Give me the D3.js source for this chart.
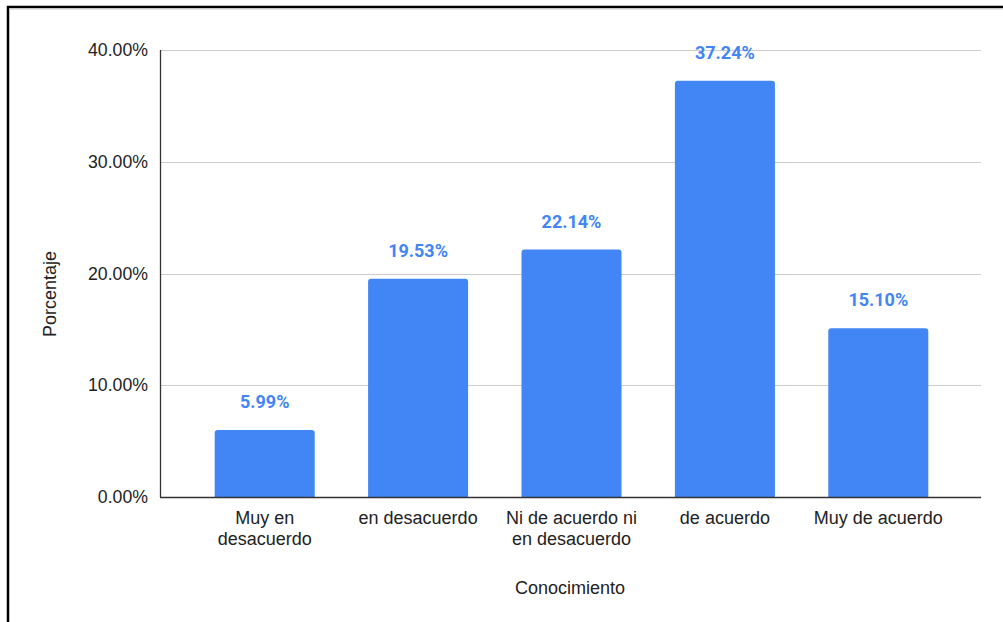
<!DOCTYPE html>
<html><head><meta charset="utf-8">
<script src="https://cdn.jsdelivr.net/npm/d3@7"></script>
<style>body{margin:0;background:#fff}svg{display:block}</style>
</head><body>
<svg id="c" width="1003" height="622"></svg>
<script>
const categories = [["Muy en","desacuerdo"],["en desacuerdo"],["Ni de acuerdo ni","en desacuerdo"],["de acuerdo"],["Muy de acuerdo"]];
const values = [5.99, 19.53, 22.14, 37.24, 15.10];
const tickValues = [0, 10, 20, 30, 40];
const xTitle = "Conocimiento";
const yTitle = "Porcentaje";

const svg = d3.select("#c");
const m = {left:160, right:981, top:50, bottom:497};
const x = d3.scaleBand().domain(d3.range(values.length)).range([188, 955]).paddingInner(0.348).paddingOuter(0.174);
const y = d3.scaleLinear().domain([0,40]).range([m.bottom, m.top]);
const font = "'Liberation Sans', Arial, sans-serif";

// frame
svg.append("path").attr("d","M8,622V7H1003").attr("fill","none").attr("stroke","#000").attr("stroke-width",2.5);
svg.append("line").attr("x1",9).attr("x2",1003).attr("y1",9).attr("y2",9).attr("stroke","#ccc").attr("stroke-width",1);

// grid
svg.append("g").selectAll("line").data(tickValues.filter(d=>d>0)).join("line")
  .attr("x1",m.left).attr("x2",m.right).attr("y1",d=>Math.round(y(d))+0.5).attr("y2",d=>Math.round(y(d))+0.5)
  .attr("stroke","#cccccc").attr("stroke-width",1);

// y labels
const yAxis = d3.axisLeft(y).tickValues(tickValues).tickSize(0).tickPadding(12).tickFormat(d=>d.toFixed(2)+"%");
const ga = svg.append("g").attr("transform",`translate(${m.left},0)`).call(yAxis);
ga.select(".domain").remove();
ga.selectAll("text").attr("font-family",font).attr("font-size",17.7).attr("fill","#222");

// bars
const r = 3;
svg.append("g").selectAll("path").data(values).join("path")
  .attr("fill","#4285F4")
  .attr("d",(d,i)=>{
    const x0=x(i), w=x.bandwidth(), y0=y(d), yb=y(0);
    return `M${x0},${yb}V${y0+r}Q${x0},${y0} ${x0+r},${y0}H${x0+w-r}Q${x0+w},${y0} ${x0+w},${y0+r}V${yb}Z`;
  });

// value labels
svg.append("g").selectAll("text").data(values).join("text")
  .attr("x",(d,i)=>x(i)+x.bandwidth()/2).attr("y",d=>y(d)-22)
  .attr("text-anchor","middle").attr("font-family","Roboto, sans-serif").attr("font-weight","bold")
  .attr("font-size",18).attr("fill","#4285F4").text(d=>d.toFixed(2)+"%");

// axes lines
svg.append("line").attr("x1",m.left+0.5).attr("x2",m.left+0.5).attr("y1",m.top).attr("y2",m.bottom).attr("stroke","#333").attr("stroke-width",1.3);
svg.append("line").attr("x1",m.left).attr("x2",m.right).attr("y1",m.bottom+0.5).attr("y2",m.bottom+0.5).attr("stroke","#333").attr("stroke-width",1.3);

// x labels
const xl = svg.append("g").selectAll("text").data(categories).join("text")
  .attr("x",(d,i)=>x(i)+x.bandwidth()/2).attr("y",524)
  .attr("text-anchor","middle").attr("font-family",font).attr("font-size",18).attr("fill","#222");
xl.selectAll("tspan").data(d=>d).join("tspan")
  .attr("x",function(){return this.parentNode.getAttribute("x");})
  .attr("dy",(d,i)=>i===0?0:20.5).text(d=>d);

svg.append("text").attr("x",570).attr("y",594).attr("text-anchor","middle")
  .attr("font-family",font).attr("font-size",18).attr("fill","#222").text(xTitle);
svg.append("text").attr("transform","translate(55.5,294) rotate(-90)").attr("text-anchor","middle")
  .attr("font-family",font).attr("font-size",18).attr("fill","#222").text(yTitle);
</script>
</body></html>
